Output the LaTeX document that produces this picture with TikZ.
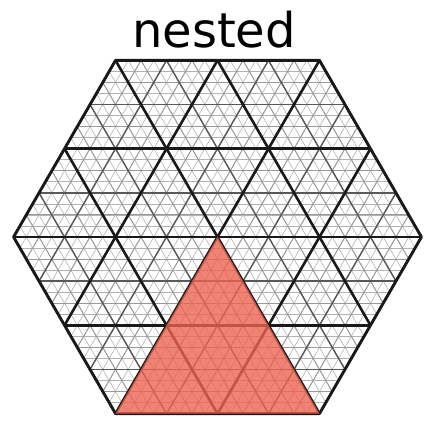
\documentclass[tikz,border=0pt]{standalone}
\usepackage{fontspec}
\setmainfont{DejaVu Sans}
\usetikzlibrary{calc}
\definecolor{patchred}{RGB}{236,100,80}
\tikzset{lev1/.style={line width=2.6pt,black!90},lev2/.style={line width=1.4pt,black!65},lev3/.style={line width=.9pt,black!40},lev4/.style={line width=.6pt,black!30},hexline/.style={line width=2.8pt,black!90,line join=round},patch/.style={fill=patchred,fill opacity=.8}}

\begin{document}
\begin{tikzpicture}[x=1pt,y=1pt]
\useasboundingbox (0,0) rectangle (430,425);
\def\side{204}
\coordinate (c) at (217.5,188);
\foreach \i in {0,...,5}{\coordinate (v\i) at ($(c)+(\i*60:\side)$);}
\node[font=\fontsize{48}{52}\selectfont,anchor=base,inner sep=0pt] (title) at (214,377) {nested};
% nested triangular grid, finest level first
\begin{scope}
\clip (v0)--(v1)--(v2)--(v3)--(v4)--(v5)--cycle;
\foreach \lev/\n in {lev4/16,lev3/8,lev2/4,lev1/2}{
\pgfmathtruncatemacro\m{2*\n}
\foreach \a in {0,60,120}{
\begin{scope}[shift={(c)},rotate=\a]
\foreach \k in {0,...,\m}{\draw[\lev] (-230,{(\k-\n)*0.866*\side/\n}) -- (230,{(\k-\n)*0.866*\side/\n});}
\end{scope}}}
\end{scope}
\draw[hexline] (v0)--(v1)--(v2)--(v3)--(v4)--(v5)--cycle;
\fill[patch] (c)--(v4)--(v5)--cycle;
\end{tikzpicture}
\end{document}
